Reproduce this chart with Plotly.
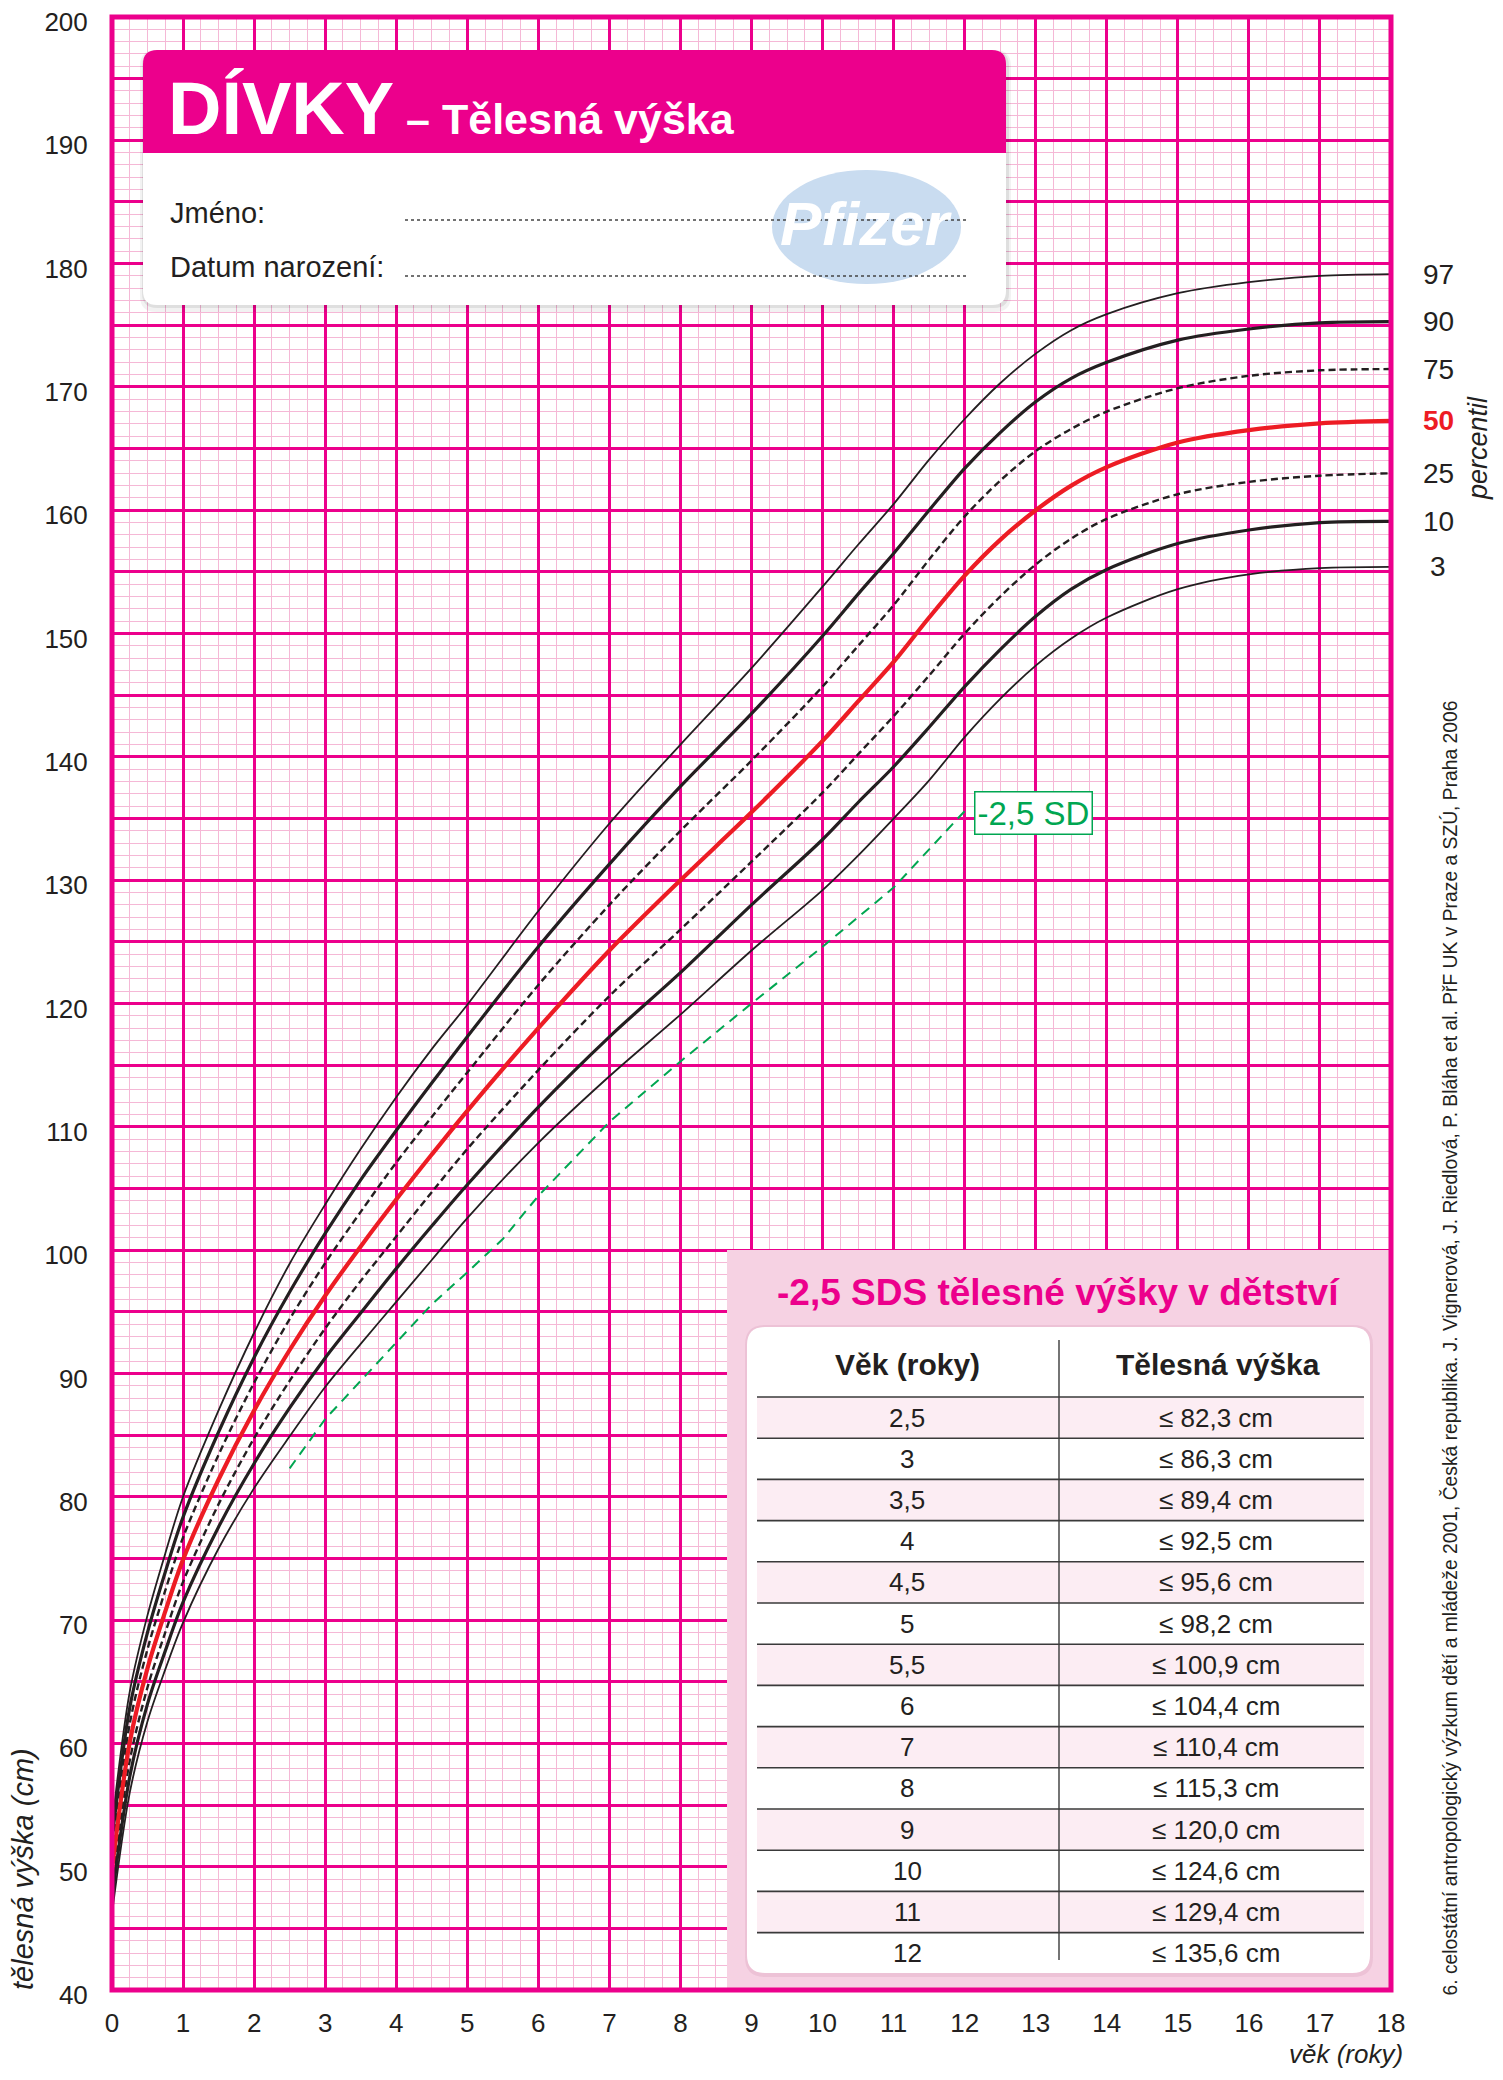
import plotly.graph_objects as go

# ---------------- data ----------------
ages = [0, 0.25, 0.5, 0.75, 1, 1.5, 2, 2.5, 3, 3.5, 4, 4.5, 5, 6, 7, 8, 9, 10,
        10.5, 11, 11.5, 12, 12.5, 13, 13.5, 14, 15, 16, 17, 18]

p97 = [53.4, 64.2, 70.4, 75.4, 80.0, 87.0, 93.3, 98.9, 103.7, 108.2, 112.4, 116.3, 119.9,
       127.5, 134.6, 141.0, 147.2, 153.8, 157.2, 160.5, 164.1, 167.4, 170.3, 172.7, 174.6,
       175.9, 177.6, 178.5, 179.0, 179.15]
p90 = [52.2, 62.9, 69.0, 73.9, 78.35, 85.25, 91.3, 96.6, 101.35, 105.7, 109.7, 113.55, 117.3,
       124.6, 131.3, 137.6, 143.5, 149.8, 153.2, 156.5, 160.0, 163.4, 166.3, 168.8, 170.7,
       172.0, 173.8, 174.7, 175.2, 175.3]
p75 = [51.1, 61.6, 67.65, 72.4, 76.7, 83.4, 89.25, 94.4, 98.95, 103.1, 107.1, 110.8, 114.4,
       121.5, 128.0, 134.0, 139.7, 145.7, 149.0, 152.3, 156.0, 159.5, 162.4, 164.8, 166.6,
       168.0, 169.9, 170.9, 171.35, 171.45]
p50 = [49.8, 60.1, 66.1, 70.7, 74.9, 81.4, 87.0, 91.9, 96.3, 100.3, 104.1, 107.75, 111.3,
       118.0, 124.3, 130.0, 135.5, 141.3, 144.5, 147.7, 151.3, 154.7, 157.6, 160.0, 162.0,
       163.5, 165.5, 166.5, 167.05, 167.25]
p25 = [48.5, 58.6, 64.55, 69.0, 73.1, 79.4, 84.75, 89.4, 93.65, 97.5, 101.1, 104.7, 108.2,
       114.6, 120.6, 126.0, 131.5, 137.1, 140.2, 143.3, 146.6, 150.0, 153.0, 155.6, 157.7,
       159.3, 161.3, 162.3, 162.8, 163.0]
p10 = [47.4, 57.3, 63.2, 67.5, 71.45, 77.55, 82.7, 87.2, 91.25, 94.9, 98.5, 101.95, 105.3,
       111.6, 117.3, 122.5, 128.0, 133.3, 136.3, 139.2, 142.4, 145.7, 148.7, 151.4, 153.6,
       155.2, 157.3, 158.4, 159.0, 159.1]
p3 = [46.2, 56.0, 61.8, 66.0, 69.8, 75.8, 80.7, 84.9, 88.9, 92.4, 95.8, 99.2, 102.6,
      108.7, 114.1, 119.1, 124.3, 129.2, 132.0, 135.0, 138.1, 141.6, 144.7, 147.4, 149.6,
      151.3, 153.6, 154.8, 155.3, 155.4]

percentile_names = ["97", "90", "75", "50", "25", "10", "3"]

sd_ages = [2.5, 3, 3.5, 4, 4.5, 5, 5.5, 6, 7, 8, 9, 10, 11, 12]
sd_heights = [82.3, 86.3, 89.4, 92.5, 95.6, 98.2, 100.9, 104.4, 110.4, 115.3, 120.0, 124.6, 129.4, 135.6]

x_ticks = list(range(0, 19))
y_ticks = list(range(40, 201, 5))
y_ticktext = [str(v) if v % 10 == 0 else "" for v in y_ticks]

# ---------------- layout helpers (screen pixel coordinates) ----------------
OFF = 8                     # default body margin of the html page
FW, FH = 1503 - 2 * OFF, 2080 - 2 * OFF
L, R, T, B = 112, 1391, 17, 1990   # plot-area edges on screen
FONT = "Liberation Sans, Arial, Helvetica, sans-serif"
MAGENTA = "#EC008C"
MINOR = "#F5B8D6"
INK = "#231F20"
RED = "#ED1C24"
GREEN = "#00A651"


def px(X):
    return (X - L) / (R - L)


def py(Y):
    return 1 - (Y - T) / (B - T)


def rrect_path(x0, y0, x1, y1, r, top_only=False):
    rb = 0 if top_only else r
    pts = [
        f"M{px(x0 + r)},{py(y0)}",
        f"L{px(x1 - r)},{py(y0)}",
        f"Q{px(x1)},{py(y0)} {px(x1)},{py(y0 + r)}",
        f"L{px(x1)},{py(y1 - rb)}",
        f"Q{px(x1)},{py(y1)} {px(x1 - rb)},{py(y1)}",
        f"L{px(x0 + rb)},{py(y1)}",
        f"Q{px(x0)},{py(y1)} {px(x0)},{py(y1 - rb)}",
        f"L{px(x0)},{py(y0 + r)}",
        f"Q{px(x0)},{py(y0)} {px(x0 + r)},{py(y0)}",
        "Z",
    ]
    return " ".join(pts)


fig = go.Figure()

series = [p97, p90, p75, p25, p10, p3, p50]
names = ["97", "90", "75", "25", "10", "3", "50"]
styles = {
    "97": dict(color=INK, width=1.8),
    "3": dict(color=INK, width=1.8),
    "90": dict(color=INK, width=3.2),
    "10": dict(color=INK, width=3.2),
    "75": dict(color=INK, width=2.4, dash="7px,4px"),
    "25": dict(color=INK, width=2.4, dash="7px,4px"),
    "50": dict(color=RED, width=4.2),
}
for s, n in zip(series, names):
    fig.add_trace(go.Scatter(x=ages, y=s, mode="lines", name="P" + n,
                             line=dict(shape="spline", smoothing=0.9, **styles[n]),
                             hoverinfo="skip"))

fig.add_trace(go.Scatter(x=sd_ages, y=sd_heights, mode="lines", name="-2,5 SD",
                         line=dict(color=GREEN, width=2, dash="10px,7px"), hoverinfo="skip"))

shapes = []
ann = []

# ---- header box ----
shapes.append(dict(type="path", xref="paper", yref="paper", layer="above",
                   path=rrect_path(140, 50, 1011, 312, 16), fillcolor="rgba(0,0,0,0.05)",
                   line=dict(width=0)))
shapes.append(dict(type="path", xref="paper", yref="paper", layer="above",
                   path=rrect_path(142, 51, 1009, 308, 15), fillcolor="rgba(0,0,0,0.08)",
                   line=dict(width=0)))
shapes.append(dict(type="path", xref="paper", yref="paper", layer="above",
                   path=rrect_path(143, 50, 1006, 305, 14), fillcolor="white",
                   line=dict(width=0)))
shapes.append(dict(type="path", xref="paper", yref="paper", layer="above",
                   path=rrect_path(143, 50, 1006, 153, 14, top_only=True), fillcolor=MAGENTA,
                   line=dict(width=0)))
# Pfizer logo
shapes.append(dict(type="circle", xref="paper", yref="paper", layer="above",
                   x0=px(772), x1=px(961), y0=py(284), y1=py(170),
                   fillcolor="#C9DCF0", line=dict(width=0)))
# dotted fill-in lines
for Y in (220, 276):
    shapes.append(dict(type="line", xref="paper", yref="paper", layer="above",
                       x0=px(405), x1=px(968), y0=py(Y), y1=py(Y),
                       line=dict(color="#444444", width=1.5, dash="dot")))

ann.append(dict(x=px(166), y=py(108), xref="paper", yref="paper", xanchor="left", yanchor="middle",
                showarrow=False,
                text="<b>DÍVKY</b><span style='font-size:43px'><b> – Tělesná výška</b></span>",
                font=dict(family=FONT, size=74, color="white")))
ann.append(dict(x=px(866), y=py(224), xref="paper", yref="paper", xanchor="center", yanchor="middle",
                showarrow=False, text="<b><i>Pfizer</i></b>",
                font=dict(family=FONT, size=62, color="white")))
ann.append(dict(x=px(168), y=py(213), xref="paper", yref="paper", xanchor="left", yanchor="middle",
                showarrow=False, text="Jméno:", font=dict(family=FONT, size=29, color=INK)))
ann.append(dict(x=px(168), y=py(267), xref="paper", yref="paper", xanchor="left", yanchor="middle",
                showarrow=False, text="Datum narození:", font=dict(family=FONT, size=29, color=INK)))

# ---- table panel ----
shapes.append(dict(type="rect", xref="paper", yref="paper", layer="above",
                   x0=px(727), x1=px(1391), y0=py(1990), y1=py(1250),
                   fillcolor="#F6D2E3", line=dict(width=0)))
shapes.append(dict(type="path", xref="paper", yref="paper", layer="above",
                   path=rrect_path(745, 1325, 1373, 1977, 20), fillcolor="rgba(160,60,110,0.10)",
                   line=dict(width=0)))
shapes.append(dict(type="path", xref="paper", yref="paper", layer="above",
                   path=rrect_path(747, 1327, 1370, 1973, 18), fillcolor="white",
                   line=dict(width=0)))

row_top0 = 1397
row_h = 41.2
TX0, TX1 = 757, 1364
for i in range(len(sd_ages)):
    y0 = row_top0 + row_h * i
    if i % 2 == 0:
        shapes.append(dict(type="rect", xref="paper", yref="paper", layer="above",
                           x0=px(TX0), x1=px(TX1), y0=py(y0 + row_h), y1=py(y0),
                           fillcolor="#FCEDF3", line=dict(width=0)))
for i in range(len(sd_ages)):
    y0 = row_top0 + row_h * i
    shapes.append(dict(type="line", xref="paper", yref="paper", layer="above",
                       x0=px(TX0), x1=px(TX1), y0=py(y0), y1=py(y0),
                       line=dict(color="#3A3A3A", width=1.6)))
shapes.append(dict(type="line", xref="paper", yref="paper", layer="above",
                   x0=px(1059), x1=px(1059), y0=py(1340), y1=py(1960),
                   line=dict(color="#3A3A3A", width=1.4)))

ann.append(dict(x=px(1058), y=py(1292), xref="paper", yref="paper", xanchor="center", yanchor="middle",
                showarrow=False, text="<b>-2,5 SDS tělesné výšky v dětství</b>",
                font=dict(family=FONT, size=37, color=MAGENTA)))
ann.append(dict(x=px(907), y=py(1364), xref="paper", yref="paper", xanchor="center", yanchor="middle",
                showarrow=False, text="<b>Věk (roky)</b>", font=dict(family=FONT, size=30, color=INK)))
ann.append(dict(x=px(1218), y=py(1364), xref="paper", yref="paper", xanchor="center", yanchor="middle",
                showarrow=False, text="<b>Tělesná výška</b>", font=dict(family=FONT, size=30, color=INK)))
for i, (a, h) in enumerate(zip(sd_ages, sd_heights)):
    yc = row_top0 + row_h * i + row_h / 2
    age_txt = (f"{a:g}").replace(".", ",")
    h_txt = "≤ " + f"{h:.1f}".replace(".", ",") + " cm"
    ann.append(dict(x=px(907), y=py(yc), xref="paper", yref="paper", xanchor="center", yanchor="middle",
                    showarrow=False, text=age_txt, font=dict(family=FONT, size=26, color=INK)))
    ann.append(dict(x=px(1216), y=py(yc), xref="paper", yref="paper", xanchor="center", yanchor="middle",
                    showarrow=False, text=h_txt, font=dict(family=FONT, size=26, color=INK)))

# ---- plot border ----
shapes.append(dict(type="rect", xref="paper", yref="paper", layer="above",
                   x0=0, x1=1, y0=0, y1=1, line=dict(color=MAGENTA, width=5),
                   fillcolor="rgba(0,0,0,0)"))

# ---- percentile labels ----
ends = {"97": p97[-1], "90": p90[-1], "75": p75[-1], "50": p50[-1],
        "25": p25[-1], "10": p10[-1], "3": p3[-1]}
for n in percentile_names:
    is50 = n == "50"
    ann.append(dict(x=px(1438), y=ends[n], xref="paper", yref="y", xanchor="center", yanchor="middle",
                    showarrow=False, text=f"<b>{n}</b>" if is50 else n,
                    font=dict(family=FONT, size=28, color=RED if is50 else INK)))
ann.append(dict(x=px(1478), y=py(448), xref="paper", yref="paper", xanchor="center", yanchor="middle",
                showarrow=False, text="<i>percentil</i>", textangle=-90,
                font=dict(family=FONT, size=27, color=INK)))

# ---- -2,5 SD label ----
ann.append(dict(x=12.13, y=135.45, xref="x", yref="y", xanchor="left", yanchor="middle",
                showarrow=False, text="-2,5 SD", bgcolor="white", bordercolor=GREEN,
                borderwidth=1.5, borderpad=2, font=dict(family=FONT, size=33, color=GREEN)))

# ---- axis titles & credit ----
ann.append(dict(x=px(23), y=py(1992), xref="paper", yref="paper", xanchor="center", yanchor="bottom",
                showarrow=False, text="<i>tělesná výška (cm)</i>", textangle=-90,
                font=dict(family=FONT, size=29, color=INK)))
ann.append(dict(x=px(1405), y=py(2071), xref="paper", yref="paper", xanchor="right", yanchor="bottom",
                showarrow=False, text="<i>věk (roky)</i>",
                font=dict(family=FONT, size=26, color=INK)))
ann.append(dict(x=px(1449), y=py(1998), xref="paper", yref="paper", xanchor="center", yanchor="bottom",
                showarrow=False, textangle=-90,
                text="6. celostátní antropologický výzkum dětí a mládeže 2001, Česká republika. "
                     "J. Vignerová, J. Riedlová, P. Bláha et al. PřF UK v Praze a SZÚ, Praha 2006",
                font=dict(family=FONT, size=19.3, color=INK)))

fig.update_layout(
    width=FW, height=FH,
    margin=dict(l=L - OFF, r=FW - (R - OFF), t=T - OFF, b=FH - (B - OFF), pad=0,
                autoexpand=False),
    paper_bgcolor="white", plot_bgcolor="white",
    showlegend=False,
    shapes=shapes, annotations=ann,
    font=dict(family=FONT, color=INK),
    xaxis=dict(range=[0, 18], tickvals=x_ticks, ticktext=[str(v) for v in x_ticks],
               automargin=False,
               showgrid=True, gridcolor=MAGENTA, gridwidth=2.5, zeroline=False,
               ticks="outside", ticklen=10, tickcolor="rgba(0,0,0,0)",
               ticklabeloverflow="allow",
               tickfont=dict(family=FONT, size=26, color=INK), showline=False,
               minor=dict(dtick=0.25, tick0=0, showgrid=True, gridcolor=MINOR, gridwidth=1)),
    yaxis=dict(range=[40, 200], tickvals=y_ticks, ticktext=y_ticktext,
               automargin=False,
               showgrid=True, gridcolor=MAGENTA, gridwidth=2.5, zeroline=False,
               ticks="outside", ticklen=18, tickcolor="rgba(0,0,0,0)",
               ticklabeloverflow="allow", ticklabelshift=5,
               tickfont=dict(family=FONT, size=26, color=INK), showline=False,
               minor=dict(dtick=1, tick0=0, showgrid=True, gridcolor=MINOR, gridwidth=1)),
)

fig.write_html("out.html")
